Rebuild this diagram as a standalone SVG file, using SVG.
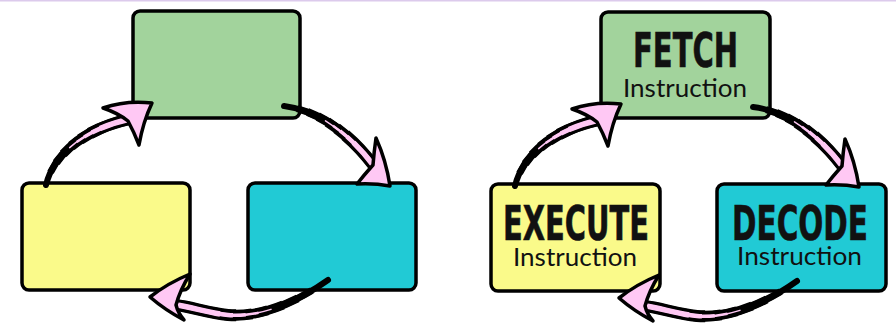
<svg xmlns="http://www.w3.org/2000/svg" xmlns:xlink="http://www.w3.org/1999/xlink" width="896" height="331" viewBox="0 0 896 331">
<style>
.box{stroke:#000;stroke-width:3.5;}
.green{fill:#a2d39c;}
.yellow{fill:#fafa8a;}
.cyan{fill:#21cad5;}
.k{fill:none;stroke:#000;stroke-linecap:butt;}
.k0{stroke-width:6;stroke-linecap:round;}
.k1{stroke-width:7;stroke-dasharray:88 12;stroke-dashoffset:88;}
.k2{stroke-width:8;stroke-dasharray:78 22;stroke-dashoffset:78;}
.k3{stroke-width:9;stroke-dasharray:68 32;stroke-dashoffset:68;}
.k4{stroke-width:10;stroke-dasharray:58 42;stroke-dashoffset:58;}
.k5{stroke-width:11;stroke-dasharray:48 52;stroke-dashoffset:48;}
.k6{stroke-width:12;stroke-dasharray:38 62;stroke-dashoffset:38;}
.p{fill:none;stroke:#ffc8f4;stroke-linecap:butt;}
.p1{stroke-width:1.5;stroke-linecap:round;stroke-dasharray:60 40;stroke-dashoffset:60;}
.p2{stroke-width:2.5;stroke-dasharray:52 48;stroke-dashoffset:52;}
.p3{stroke-width:3.5;stroke-dasharray:44 56;stroke-dashoffset:44;}
.p4{stroke-width:4.5;stroke-dasharray:36 64;stroke-dashoffset:36;}
.p5{stroke-width:5.5;stroke-dasharray:28 72;stroke-dashoffset:28;}
.head{fill:#ffc8f4;stroke:#000;stroke-width:3.5;stroke-linejoin:round;}
.big{font-family:"DejaVu Sans Condensed","DejaVu Sans",sans-serif;font-weight:bold;font-stretch:condensed;font-size:48px;fill:#111;stroke:#111;stroke-width:0.6;}
.sub{font-family:Lato,"Open Sans",sans-serif;font-size:25px;fill:#111;}
</style>
<defs>
<path id="c1" pathLength="100" d="M46,185 C54,152 88,128 130,119"/>
<path id="c2" pathLength="100" d="M284,106 C318,110 350,134 374,166"/>
<path id="c3" pathLength="100" d="M328,280 C300,300 262,318 228,315 C208,313 192,307 176,305"/>
<g id="cycleArrows">
<g id="a1">
<use xlink:href="#c1" class="k k0"/><use xlink:href="#c1" class="k k1"/><use xlink:href="#c1" class="k k2"/><use xlink:href="#c1" class="k k3"/><use xlink:href="#c1" class="k k4"/><use xlink:href="#c1" class="k k5"/><use xlink:href="#c1" class="k k6"/>
<use xlink:href="#c1" class="p p1"/><use xlink:href="#c1" class="p p2"/><use xlink:href="#c1" class="p p3"/><use xlink:href="#c1" class="p p4"/><use xlink:href="#c1" class="p p5"/>
<path class="head" d="M152,103 Q126,100 103,108 Q118,113 128,121 Q134,132 139,145 Q143,122 152,103 Z"/>
</g>
<g id="a2">
<use xlink:href="#c2" class="k k0"/><use xlink:href="#c2" class="k k1"/><use xlink:href="#c2" class="k k2"/><use xlink:href="#c2" class="k k3"/><use xlink:href="#c2" class="k k4"/><use xlink:href="#c2" class="k k5"/><use xlink:href="#c2" class="k k6"/>
<use xlink:href="#c2" class="p p1"/><use xlink:href="#c2" class="p p2"/><use xlink:href="#c2" class="p p3"/><use xlink:href="#c2" class="p p4"/><use xlink:href="#c2" class="p p5"/>
<path class="head" d="M390,186 Q386,160 376,138 Q374,152 373,165 Q364,175 357,184 Q374,183 390,186 Z"/>
</g>
<g id="a3">
<use xlink:href="#c3" class="k k0"/><use xlink:href="#c3" class="k k1"/><use xlink:href="#c3" class="k k2"/><use xlink:href="#c3" class="k k3"/><use xlink:href="#c3" class="k k4"/><use xlink:href="#c3" class="k k5"/><use xlink:href="#c3" class="k k6"/>
<use xlink:href="#c3" class="p p1"/><use xlink:href="#c3" class="p p2"/><use xlink:href="#c3" class="p p3"/><use xlink:href="#c3" class="p p4"/><use xlink:href="#c3" class="p p5"/>
<path class="head" d="M150,297 Q168,283 190,274 Q180,290 176,305 Q178,313 184,320 Q165,310 150,297 Z"/>
</g>
</g>
</defs>
<rect x="0" y="0" width="896" height="1.5" fill="#dccaec"/>
<g id="left-fetch"><rect class="box green" x="133" y="11" width="167" height="107" rx="7"/></g>
<g id="left-execute"><rect class="box yellow" x="22" y="183" width="168" height="107" rx="7"/></g>
<g id="left-decode"><rect class="box cyan" x="248" y="183" width="168" height="107" rx="7"/></g>
<g id="fetch"><rect class="box green" x="601" y="12" width="169" height="106" rx="7"/>
<text class="big" transform="scale(0.75,1)" x="844" y="67" textLength="140" lengthAdjust="spacingAndGlyphs">FETCH</text>
<text class="sub" x="623" y="97" textLength="124" lengthAdjust="spacingAndGlyphs">Instruction</text></g>
<g id="execute"><rect class="box yellow" x="491" y="184" width="169" height="107" rx="7"/>
<text class="big" transform="scale(0.75,1)" x="670.7" y="240" textLength="194.7" lengthAdjust="spacingAndGlyphs">EXECUTE</text>
<text class="sub" x="513" y="266" textLength="124" lengthAdjust="spacingAndGlyphs">Instruction</text></g>
<g id="decode"><rect class="box cyan" x="717" y="184" width="169" height="107" rx="7"/>
<text class="big" transform="scale(0.75,1)" x="976" y="240" textLength="181.3" lengthAdjust="spacingAndGlyphs">DECODE</text>
<text class="sub" x="737" y="265" textLength="125" lengthAdjust="spacingAndGlyphs">Instruction</text></g>
<g id="connectors">
<use xlink:href="#cycleArrows"/>
<use xlink:href="#cycleArrows" transform="translate(469,1)"/>
</g>
</svg>
